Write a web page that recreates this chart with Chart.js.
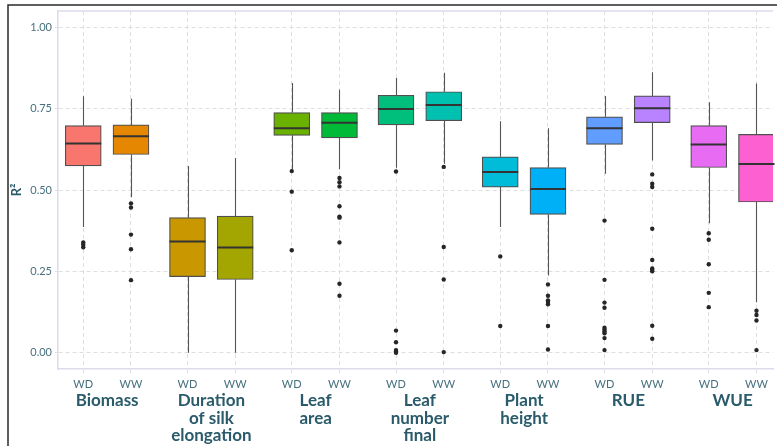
<!DOCTYPE html>
<html>
<head>
<meta charset="utf-8">
<script src="https://cdn.jsdelivr.net/npm/chart.js@4.4.1/dist/chart.umd.min.js"></script>
<style>
  html, body { margin: 0; padding: 0; background: #fff; overflow: hidden; }
  canvas { display: block; }
</style>
</head>
<body>
<canvas id="c" width="777" height="446"></canvas>
<script>
// Traits (multi-line labels) and treatments
const traits = [
  ['Biomass'],
  ['Duration', 'of silk', 'elongation'],
  ['Leaf', 'area'],
  ['Leaf', 'number', 'final'],
  ['Plant', 'height'],
  ['RUE'],
  ['WUE']
];
const treatments = ['WD', 'WW'];

// Box statistics, one entry per trait x treatment (WD, WW, WD, WW, ...)
const whiskerLow  = [0.386, 0.478, 0.000, 0.000, 0.563, 0.564, 0.568, 0.581, 0.386, 0.237, 0.550, 0.591, 0.398, 0.155];
const lowerQuart  = [0.574, 0.609, 0.234, 0.225, 0.668, 0.660, 0.700, 0.713, 0.509, 0.425, 0.640, 0.707, 0.569, 0.463];
const medians     = [0.643, 0.665, 0.342, 0.323, 0.690, 0.707, 0.749, 0.761, 0.555, 0.503, 0.690, 0.751, 0.640, 0.580];
const upperQuart  = [0.698, 0.700, 0.415, 0.420, 0.738, 0.738, 0.791, 0.802, 0.602, 0.569, 0.725, 0.789, 0.698, 0.671];
const whiskerHigh = [0.788, 0.780, 0.574, 0.598, 0.829, 0.808, 0.844, 0.860, 0.711, 0.690, 0.789, 0.862, 0.770, 0.827];
const outliers = [
  [0.339, 0.332, 0.324],
  [0.459, 0.446, 0.363, 0.318, 0.223],
  [],
  [],
  [0.558, 0.495, 0.315],
  [0.537, 0.524, 0.511, 0.450, 0.418, 0.415, 0.339, 0.212, 0.175],
  [0.557, 0.068, 0.032, 0.008, 0.004, 0.000],
  [0.571, 0.325, 0.225, 0.002],
  [0.296, 0.082],
  [0.210, 0.175, 0.161, 0.156, 0.149, 0.082, 0.010],
  [0.406, 0.224, 0.154, 0.138, 0.077, 0.071, 0.065, 0.060, 0.045, 0.008],
  [0.548, 0.519, 0.509, 0.381, 0.285, 0.259, 0.255, 0.250, 0.083, 0.043],
  [0.367, 0.347, 0.272, 0.184, 0.140],
  [0.129, 0.116, 0.099, 0.008]
];
const yTickValues = [0, 0.25, 0.5, 0.75, 1];

const boxColors = ['#F8766D', '#E58700', '#C99800', '#A3A500', '#6BB100', '#00BA38', '#00BF7D',
                   '#00C0AF', '#00BCD8', '#00B0F6', '#619CFF', '#B983FF', '#E76BF3', '#FD61D1'];

// Horizontal layout: treatments one unit apart, traits spaced a little wider
const GROUP_STEP = 2.184;
const positions = [];
const tickLabels = [];
traits.forEach((t, g) => treatments.forEach((tr, k) => {
  positions.push(g * GROUP_STEP + k);
  tickLabels.push(tr);
}));
const X_MIN = -0.529;
const X_MAX = 14.45;

const boxPoints = positions.map((x, i) => ({ x, y: [lowerQuart[i], upperQuart[i]] }));
const outlierPoints = [];
outliers.forEach((list, i) => list.forEach(v => outlierPoints.push({ x: positions[i], y: v })));

const TEXT_DARK = '#2a5b6b';
const TEXT_MID = '#47707f';

const boxParts = {
  id: 'boxParts',
  beforeDatasetsDraw(chart) {
    const { ctx, scales: { x, y } } = chart;
    ctx.save();
    ctx.strokeStyle = '#555555';
    ctx.lineWidth = 1.1;
    positions.forEach((p, i) => {
      const px = Math.round(x.getPixelForValue(p)) + 0.5;
      ctx.beginPath();
      ctx.moveTo(px, y.getPixelForValue(whiskerHigh[i]));
      ctx.lineTo(px, y.getPixelForValue(upperQuart[i]));
      ctx.moveTo(px, y.getPixelForValue(lowerQuart[i]));
      ctx.lineTo(px, y.getPixelForValue(whiskerLow[i]));
      ctx.stroke();
    });
    ctx.restore();
  },
  afterDatasetsDraw(chart) {
    const { ctx, scales: { y } } = chart;
    const bars = chart.getDatasetMeta(1).data;
    ctx.save();
    ctx.strokeStyle = '#333333';
    ctx.lineWidth = 2;
    bars.forEach((bar, i) => {
      const py = y.getPixelForValue(medians[i]);
      ctx.beginPath();
      ctx.moveTo(bar.x - bar.width / 2, py);
      ctx.lineTo(bar.x + bar.width / 2, py);
      ctx.stroke();
    });
    ctx.restore();
  },
  afterDraw(chart) {
    const { ctx, chartArea, scales: { x } } = chart;
    ctx.save();
    // panel top edge
    ctx.strokeStyle = '#dddbeb';
    ctx.lineWidth = 1.5;
    ctx.beginPath();
    ctx.moveTo(chartArea.left, chartArea.top);
    ctx.lineTo(chartArea.right, chartArea.top);
    ctx.stroke();
    // trait names under each pair
    ctx.fillStyle = TEXT_DARK;
    ctx.font = 'bold 17px Lato';
    ctx.textAlign = 'center';
    ctx.textBaseline = 'middle';
    traits.forEach((lines, g) => {
      const cx = (x.getPixelForValue(positions[2 * g]) + x.getPixelForValue(positions[2 * g + 1])) / 2;
      lines.forEach((line, j) => ctx.fillText(line, cx, chartArea.bottom + 32 + j * 17.2));
    });
    // figure frame
    ctx.strokeStyle = '#2a2a2a';
    ctx.lineWidth = 1.5;
    ctx.beginPath();
    ctx.moveTo(8, 446);
    ctx.lineTo(8, 5);
    ctx.lineTo(777, 5);
    ctx.stroke();
    ctx.restore();
  }
};

new Chart(document.getElementById('c'), {
  type: 'bar',
  data: {
    datasets: [
      {
        type: 'scatter',
        data: outlierPoints,
        pointRadius: 2.2,
        pointBackgroundColor: '#262626',
        pointBorderWidth: 0,
        order: 0
      },
      {
        type: 'bar',
        data: boxPoints,
        backgroundColor: boxColors,
        borderColor: '#4f4f4f',
        borderWidth: 1.2,
        borderSkipped: false,
        barThickness: 36,
        grouped: false,
        order: 1
      }
    ]
  },
  options: {
    responsive: false,
    animation: false,
    devicePixelRatio: 1,
    layout: { padding: { top: 11, left: 0, right: 0, bottom: 0 } },
    plugins: { legend: { display: false }, tooltip: { enabled: false } },
    scales: {
      x: {
        type: 'linear',
        min: X_MIN,
        max: X_MAX,
        offset: false,
        afterBuildTicks: s => { s.ticks = positions.map(v => ({ value: v })); },
        afterFit: s => { s.height = 77; },
        ticks: {
          callback: (v, i) => tickLabels[i],
          color: TEXT_MID,
          font: { family: 'Lato', size: 11 },
          padding: 5,
          maxRotation: 0,
          autoSkip: false
        },
        grid: { color: '#dedede', tickColor: '#dedede', tickLength: 4, offset: false },
        border: { display: true, color: '#dddbeb', width: 1.5, dash: [4, 3] }
      },
      y: {
        min: -0.05,
        max: 1.05,
        afterBuildTicks: s => { s.ticks = yTickValues.map(v => ({ value: v })); },
        afterFit: s => { s.width = 58; },
        ticks: {
          callback: v => v.toFixed(2),
          color: TEXT_MID,
          font: { family: 'Lato', size: 11 },
          padding: 3
        },
        grid: { color: '#dedede', tickColor: '#dedede', tickLength: 3 },
        border: { display: true, color: '#dddbeb', width: 1.5, dash: [4, 3] },
        title: {
          display: true,
          text: 'R²',
          color: TEXT_DARK,
          font: { family: 'Lato', size: 13, weight: 'bold' },
          padding: { top: 9, bottom: 0 }
        }
      }
    }
  },
  plugins: [boxParts]
});
</script>
</body>
</html>
